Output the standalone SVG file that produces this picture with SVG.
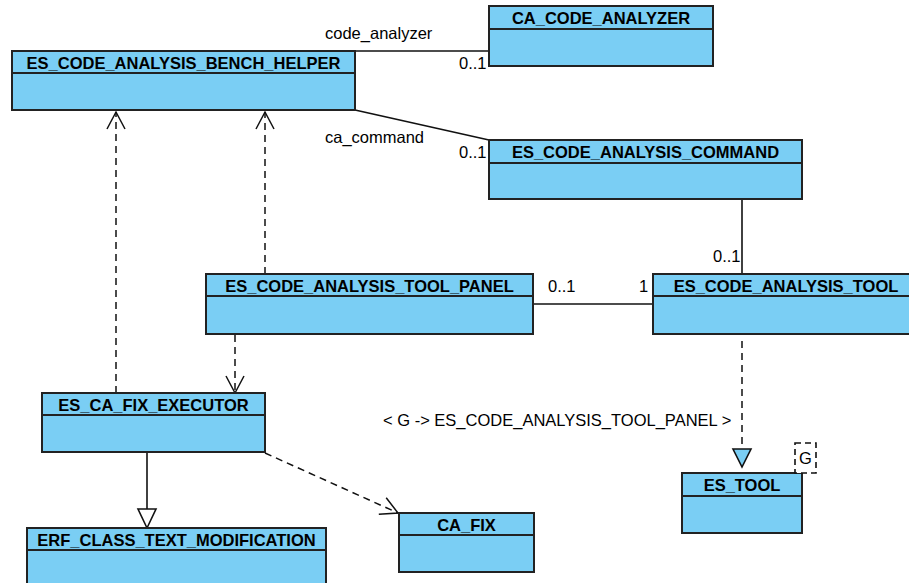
<svg xmlns="http://www.w3.org/2000/svg" width="909" height="583" viewBox="0 0 909 583">
  <style>
    .box { fill: #7ACEF4; stroke: #222; stroke-width: 2; }
    .div { stroke: #222; stroke-width: 2; fill: none; }
    .title { font-family: "Liberation Sans", Arial, sans-serif; font-size: 16.5px; font-weight: bold; fill: #000; text-anchor: middle; }
    .lbl { font-family: "Liberation Sans", Arial, sans-serif; font-size: 16.5px; fill: #000; }
    .assoc { stroke: #111; stroke-width: 1.6; fill: none; }
    .dash { stroke: #111; stroke-width: 1.5; fill: none; stroke-dasharray: 7 5; }
  </style>
  <defs>
    <marker id="open" viewBox="-19 -11 21 22" refX="0" refY="0" markerWidth="21" markerHeight="22" markerUnits="userSpaceOnUse" orient="auto">
      <path d="M-17,-9 L0,0 L-17,9" fill="none" stroke="#111" stroke-width="1.5" stroke-dasharray="none"/>
    </marker>
  </defs>

  <rect width="909" height="583" fill="#fff"/>

  <!-- connectors -->
  <g id="connectors">
    <!-- associations -->
    <line class="assoc" x1="355" y1="51" x2="489" y2="51"/>
    <line class="assoc" x1="355" y1="110" x2="489" y2="140"/>
    <line class="assoc" x1="742" y1="199" x2="742" y2="274"/>
    <line class="assoc" x1="533" y1="304" x2="653" y2="304"/>
    <text class="lbl" x="325" y="39">code_analyzer</text>
    <text class="lbl" x="459" y="69">0..1</text>
    <text class="lbl" x="325" y="143">ca_command</text>
    <text class="lbl" x="459" y="158">0..1</text>
    <text class="lbl" x="713" y="262">0..1</text>
    <text class="lbl" x="548" y="292">0..1</text>
    <text class="lbl" x="639" y="292">1</text>

    <!-- dependencies -->
    <line class="dash" x1="116" y1="393" x2="116" y2="112" marker-end="url(#open)"/>
    <line class="dash" x1="265" y1="274" x2="265" y2="112" marker-end="url(#open)"/>
    <line class="dash" x1="235" y1="335" x2="235" y2="393" marker-end="url(#open)"/>
    <line class="dash" x1="265" y1="453" x2="398" y2="513" marker-end="url(#open)"/>

    <!-- generalization -->
    <line class="assoc" x1="147" y1="453" x2="147" y2="509"/>
    <polygon points="138,509 156,509 147,528" fill="#fff" stroke="#111" stroke-width="1.6"/>

    <!-- template binding -->
    <line class="dash" x1="742" y1="341" x2="742" y2="449"/>
    <polygon points="733,449 751,449 742,467" fill="#7ACEF4" stroke="#111" stroke-width="1.6"/>
    <text class="lbl" x="383" y="426">&lt; G -&gt; ES_CODE_ANALYSIS_TOOL_PANEL &gt;</text>
  </g>

  <!-- classes -->
  <g id="bench_helper">
    <rect class="box" x="12" y="51" width="343" height="59"/>
    <line class="div" x1="12" y1="73" x2="355" y2="73"/>
    <text class="title" x="183.5" y="69">ES_CODE_ANALYSIS_BENCH_HELPER</text>
  </g>
  <g id="code_analyzer">
    <rect class="box" x="489" y="6" width="224" height="60"/>
    <line class="div" x1="489" y1="29" x2="713" y2="29"/>
    <text class="title" x="601" y="24">CA_CODE_ANALYZER</text>
  </g>
  <g id="analysis_command">
    <rect class="box" x="489" y="140" width="313" height="59"/>
    <line class="div" x1="489" y1="163" x2="802" y2="163"/>
    <text class="title" x="645.5" y="158">ES_CODE_ANALYSIS_COMMAND</text>
  </g>
  <g id="tool_panel">
    <rect class="box" x="206" y="274" width="327" height="60"/>
    <line class="div" x1="206" y1="296" x2="533" y2="296"/>
    <text class="title" x="369.5" y="292">ES_CODE_ANALYSIS_TOOL_PANEL</text>
  </g>
  <g id="analysis_tool">
    <rect class="box" x="653" y="274" width="266" height="60"/>
    <line class="div" x1="653" y1="296" x2="919" y2="296"/>
    <text class="title" x="786" y="292">ES_CODE_ANALYSIS_TOOL</text>
  </g>
  <g id="fix_executor">
    <rect class="box" x="42" y="393" width="223" height="59"/>
    <line class="div" x1="42" y1="415" x2="265" y2="415"/>
    <text class="title" x="153.5" y="411">ES_CA_FIX_EXECUTOR</text>
  </g>
  <g id="text_modification">
    <rect class="box" x="27" y="528" width="299" height="70"/>
    <line class="div" x1="27" y1="550" x2="326" y2="550"/>
    <text class="title" x="176.5" y="546">ERF_CLASS_TEXT_MODIFICATION</text>
  </g>
  <g id="ca_fix">
    <rect class="box" x="399" y="513" width="135" height="59"/>
    <line class="div" x1="399" y1="535" x2="534" y2="535"/>
    <text class="title" x="466.5" y="531">CA_FIX</text>
  </g>
  <g id="es_tool">
    <rect class="box" x="682" y="473" width="120" height="60"/>
    <line class="div" x1="682" y1="496" x2="802" y2="496"/>
    <text class="title" x="742" y="491">ES_TOOL</text>
    <rect x="795" y="443" width="21" height="30" fill="#fff" stroke="#111" stroke-width="1.6" stroke-dasharray="6 4"/>
    <text class="lbl" x="805.5" y="464" text-anchor="middle">G</text>
  </g>
</svg>
